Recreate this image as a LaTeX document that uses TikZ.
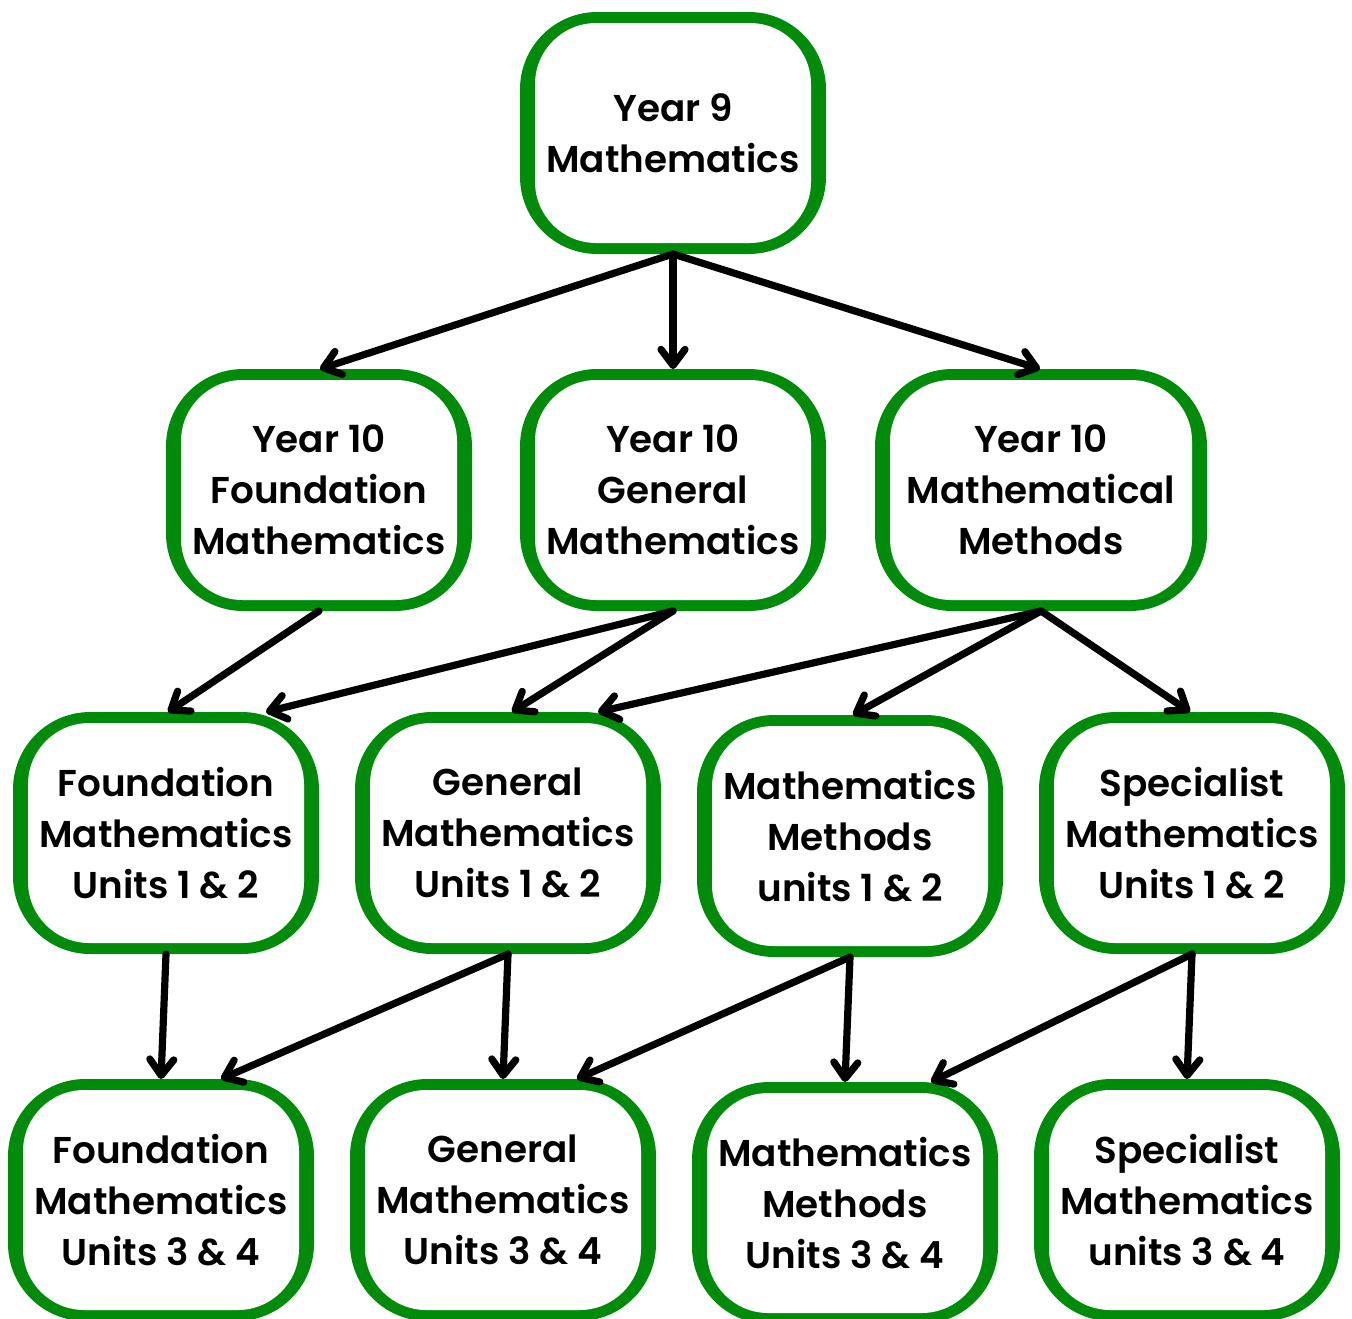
\documentclass[tikz,border=0pt]{standalone}
\usepackage{fontspec}
\setmainfont{Poppins}[BoldFont={* SemiBold}]
\usetikzlibrary{arrows.meta,calc}
\definecolor{boxgreen}{RGB}{0,140,10}
\tikzset{
  box/.style={fill=boxgreen, rounded corners=58pt, inner sep=0pt, outer sep=0pt,
    minimum width=229.5pt, minimum height=181.5pt,
    align=center, font=\fontsize{28}{38.25}\selectfont\bfseries,
    path picture={\fill[white, rounded corners=46pt]
      ($(path picture bounding box.south west)+(15,-11)$) rectangle
      ($(path picture bounding box.north east)+(-15,11)$);}},
  widebox/.style={box, minimum width=249pt},
  conn/.style={line width=5.4pt, line cap=round, line join=round,
    -{Straight Barb[length=12pt, width=18pt, line cap=round, line join=round]}}
}
\begin{document}
\begin{tikzpicture}[x=0.75pt, y=-0.75pt]
\useasboundingbox (0,0) rectangle (1352,1318);
\clip (0,0) rectangle (1352,1318);
\node[box] (y9) at (673,133) {Year 9\\Mathematics};
\node[box] (y10f) at (319,490) {Year 10\\Foundation\\Mathematics};
\node[box] (y10g) at (673,490) {Year 10\\General\\Mathematics};
\node[widebox] (y10m) at (1041,490) {Year 10\\Mathematical\\Methods};
\node[box] (f12) at (166,833) {Foundation\\Mathematics\\Units 1 \& 2};
\node[box] (g12) at (508,833) {General\\Mathematics\\Units 1 \& 2};
\node[box] (m12) at (850,836) {Mathematics\\Methods\\units 1 \& 2};
\node[box] (s12) at (1192,833) {Specialist\\Mathematics\\Units 1 \& 2};
\node[box] (f34) at (161,1200) {Foundation\\Mathematics\\Units 3 \& 4};
\node[box] (g34) at (503,1200) {General\\Mathematics\\Units 3 \& 4};
\node[box] (m34) at (845,1203) {Mathematics\\Methods\\Units 3 \& 4};
\node[box] (s34) at (1187,1200) {Specialist\\Mathematics\\units 3 \& 4};
\draw[conn] (y9.south) -- ($(y10f.north)+(1,0)$);
\draw[conn] (y9.south) -- (y10g.north);
\draw[conn] (y9.south) -- ($(y10m.north)+(-1,0)$);
\draw[conn] (y10f.south) -- ($(f12.north)+(2,0)$);
\draw[conn] (y10g.south) -- ($(f12.north)+(100,0)$);
\draw[conn] (y10g.south) -- ($(g12.north)+(4,0)$);
\draw[conn] (y10m.south) -- ($(g12.north)+(90,0)$);
\draw[conn] (y10m.south) -- ($(m12.north)+(3,0)$);
\draw[conn] (y10m.south) -- ($(s12.north)+(-2,0)$);
\draw[conn] (f12.south) -- (f34.north);
\draw[conn] (g12.south) -- ($(f34.north)+(60,0)$);
\draw[conn] (g12.south) -- (g34.north);
\draw[conn] (m12.south) -- ($(g34.north)+(74,0)$);
\draw[conn] (m12.south) -- (m34.north);
\draw[conn] (s12.south) -- ($(m34.north)+(86,0)$);
\draw[conn] (s12.south) -- (s34.north);
\end{tikzpicture}
\end{document}
